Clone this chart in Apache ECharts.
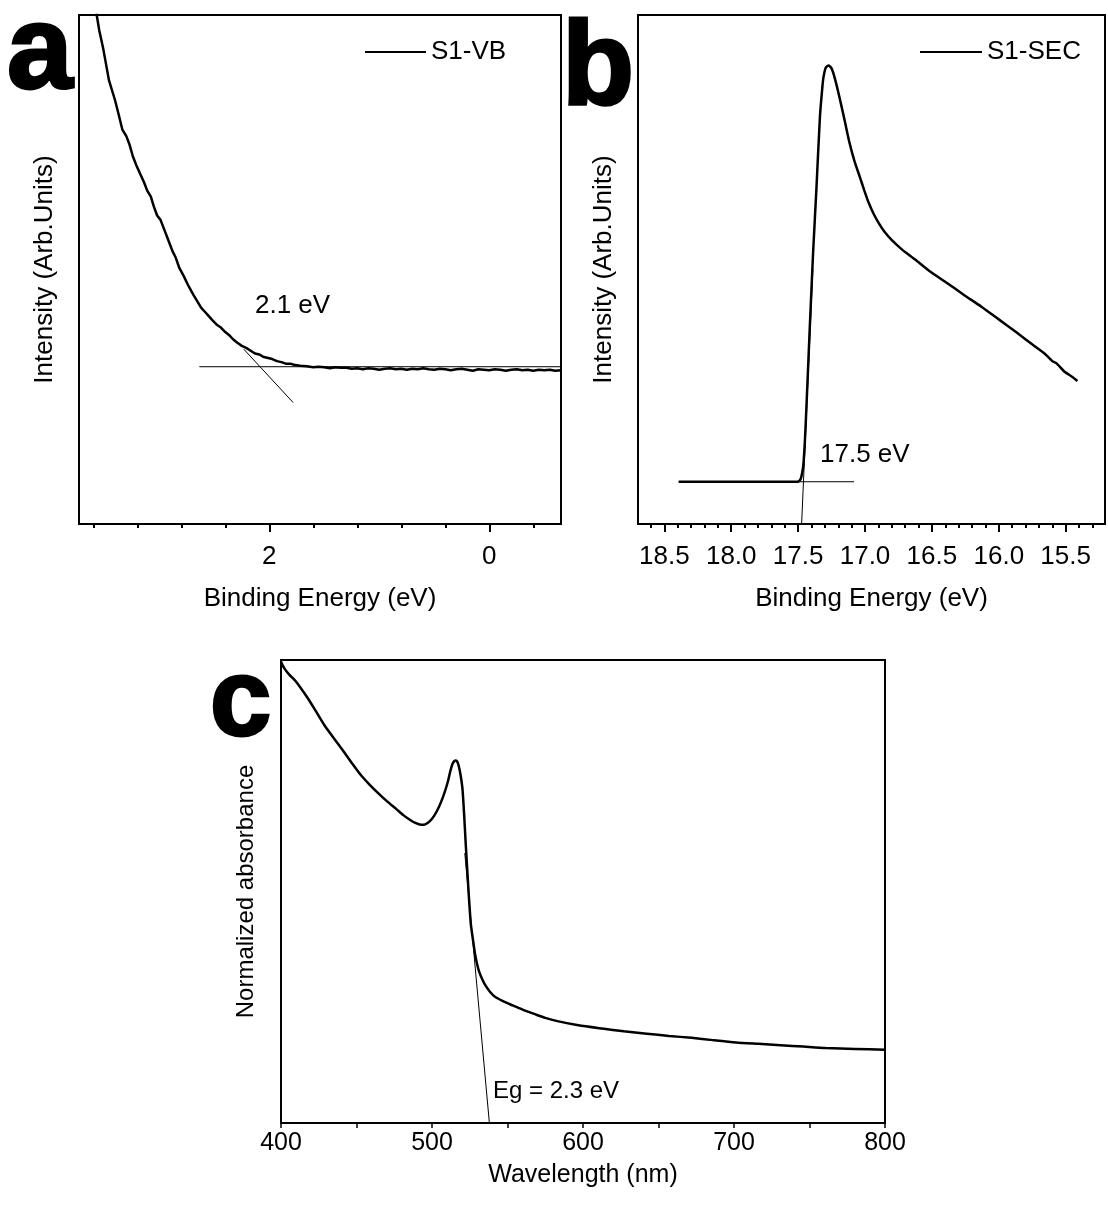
<!DOCTYPE html>
<html>
<head>
<meta charset="utf-8">
<script src="https://cdn.jsdelivr.net/npm/echarts@6/dist/echarts.min.js"></script>
<style>
  html, body { margin: 0; padding: 0; background: #fff; }
  #chart { width: 1108px; height: 1222px; }
</style>
</head>
<body>
<div id="chart"></div>
<script>
// panel a - valence band (S1-VB)
const vbEnergy = [3.575, 3.569, 3.546, 3.509, 3.458, 3.403, 3.37, 3.336, 3.30, 3.27, 3.24, 3.209, 3.17, 3.14, 3.11, 3.077, 3.05, 3.02, 2.99, 2.945, 2.91, 2.88, 2.85, 2.818, 2.78, 2.74, 2.71, 2.687, 2.65, 2.62, 2.59, 2.556, 2.52, 2.48, 2.44, 2.40, 2.364, 2.33, 2.29, 2.25, 2.21, 2.166, 2.13, 2.09, 2.05, 2.01, 1.973, 1.93, 1.89, 1.85, 1.81, 1.776, 1.72, 1.66, 1.60, 1.55, 1.50, 1.45, 1.40, 1.35, 1.30, 1.25, 1.20, 1.15, 1.10, 1.05, 1.00, 0.95, 0.90, 0.85, 0.80, 0.75, 0.70, 0.65, 0.60, 0.55, 0.50, 0.45, 0.40, 0.35, 0.30, 0.25, 0.20, 0.15, 0.10, 0.05, 0.00, -0.05, -0.10, -0.15, -0.20, -0.25, -0.30, -0.35, -0.40, -0.45, -0.50, -0.55, -0.60, -0.652];
const vbIntensity = [101.5, 100, 97.0, 93.3, 87.2, 83.3, 80.5, 77.5, 76.2, 74.5, 72.2, 70.5, 68.6, 67.2, 65.5, 64.3, 62.4, 60.6, 59.8, 57.3, 55.3, 53.6, 52.3, 50.3, 48.8, 47.0, 45.8, 44.9, 43.6, 42.5, 41.8, 41.0, 40.1, 39.2, 38.6, 37.7, 37.1, 36.3, 35.6, 35.0, 34.6, 34.0, 33.5, 33.3, 32.8, 32.6, 32.4, 32.0, 31.8, 31.5, 31.5, 31.3, 31.1, 31.0, 30.8, 30.9, 30.8, 30.6, 30.8, 30.7, 30.7, 30.5, 30.6, 30.4, 30.6, 30.5, 30.3, 30.5, 30.6, 30.4, 30.5, 30.3, 30.5, 30.4, 30.6, 30.4, 30.3, 30.5, 30.4, 30.2, 30.4, 30.5, 30.3, 30.1, 30.4, 30.3, 30.2, 30.4, 30.3, 30.1, 30.3, 30.4, 30.2, 30.3, 30.1, 30.3, 30.2, 30.3, 30.1, 30.2];
const vbBaseX = [2.636, -0.652];
const vbBaseY = [30.9, 30.9];
const vbEdgeX = [2.232, 1.783];
const vbEdgeY = [34.35, 23.86];
const vbMajorTicks = [0, 2];
const vbMinorTicks = [-0.4, 0.4, 0.8, 1.2, 1.6, 2.4, 2.8, 3.2, 3.6];

// panel b - secondary electron cutoff (S1-SEC)
const secEnergy = [18.393, 17.506, 17.49, 17.48, 17.47, 17.461, 17.45, 17.44, 17.415, 17.389, 17.363, 17.337, 17.32, 17.311, 17.293, 17.272, 17.258, 17.246, 17.226, 17.194, 17.155, 17.117, 17.08, 17.039, 17.005, 16.974, 16.935, 16.895, 16.857, 16.805, 16.727, 16.623, 16.519, 16.39, 16.26, 16.13, 16.0, 15.871, 15.741, 15.65, 15.6, 15.57, 15.508, 15.45, 15.412];
const secIntensity = [8.3, 8.3, 8.5, 8.9, 10.0, 11.6, 16.0, 21.7, 37.3, 52.8, 66.0, 80.0, 85.5, 87.7, 89.7, 90.1, 89.8, 89.3, 87.6, 84.2, 79.6, 75.0, 71.4, 68.2, 65.5, 63.2, 60.9, 59.0, 57.5, 55.9, 54.0, 51.9, 49.7, 47.4, 45.0, 42.7, 40.2, 37.7, 35.1, 33.3, 32.0, 31.6, 29.9, 28.9, 28.1];
const secBaseX = [18.393, 17.082];
const secBaseY = [8.3, 8.3];
const secEdgeX = [17.474, 17.39];
const secEdgeY = [0, 50];
const secMajorTicks = [15.5, 16.0, 16.5, 17.0, 17.5, 18.0, 18.5];
const secMinorTicks = [15.3, 15.4, 15.6, 15.7, 15.8, 15.9, 16.1, 16.2, 16.3, 16.4, 16.6, 16.7, 16.8, 16.9, 17.1, 17.2, 17.3, 17.4, 17.6, 17.7, 17.8, 17.9, 18.1, 18.2, 18.3, 18.4, 18.6];

// panel c - absorbance
const absWavelength = [400, 402, 405.3, 410, 417.2, 423, 429, 435, 440.9, 447, 452.7, 458.6, 464.5, 470.5, 476.4, 481, 485.3, 489, 492.7, 495.5, 498.6, 501.5, 504.5, 507.5, 510.4, 512, 513.4, 514.6, 515.8, 516.8, 517.8, 519, 520.2, 521.3, 522.3, 524.1, 525.7, 527.3, 528.5, 529.8, 531.2, 533.5, 535.6, 538.5, 541.5, 547, 553.4, 560, 568.2, 575, 583, 597, 612.6, 627, 642.2, 657, 671.8, 686, 701.4, 716, 731, 746, 760.7, 780, 800];
const absValue = [99.6, 98.3, 96.9, 95.3, 92.0, 89.0, 85.8, 83.1, 80.5, 77.7, 75.2, 73.1, 71.2, 69.4, 67.8, 66.5, 65.5, 64.8, 64.4, 64.5, 65.2, 66.4, 68.2, 70.6, 73.6, 75.8, 77.4, 78.1, 78.3, 78.0, 77.0, 75.0, 72.1, 66.5, 60.5, 50.6, 43.0, 39.2, 36.5, 34.4, 32.7, 30.9, 29.6, 28.3, 27.3, 26.3, 25.4, 24.5, 23.5, 22.7, 22.0, 21.1, 20.4, 19.8, 19.3, 18.8, 18.4, 17.9, 17.4, 17.1, 16.8, 16.5, 16.2, 16.0, 15.8];
const absEdgeX = [521.7, 538];
const absEdgeY = [58.3, 0];

const FONT = '"Liberation Sans", Arial, sans-serif';

function zip(xs, ys) {
  return xs.map((x, i) => [x, ys[i]]);
}

function txt(size) {
  return { color: '#000', fontSize: size, fontFamily: FONT };
}

function mainX(grid, min, max, major, fmt, name, gap) {
  return {
    type: 'value', gridIndex: grid, min: min, max: max, inverse: true, position: 'bottom',
    axisLine: { show: true, onZero: false, lineStyle: { color: '#000', width: 2 } },
    axisTick: { show: true, customValues: major, length: 8, lineStyle: { color: '#000', width: 2 } },
    axisLabel: Object.assign({ show: true, customValues: major, margin: 20, formatter: fmt }, txt(26)),
    splitLine: { show: false },
    name: name, nameLocation: 'middle', nameGap: gap, nameTextStyle: txt(26)
  };
}

function minorX(grid, min, max, minor) {
  return {
    type: 'value', gridIndex: grid, min: min, max: max, inverse: true, position: 'bottom',
    axisLine: { show: false },
    axisTick: { show: true, customValues: minor, length: 4, lineStyle: { color: '#000', width: 2 } },
    axisLabel: { show: false },
    splitLine: { show: false }
  };
}

function yAx(grid, name, gap, size) {
  return {
    type: 'value', gridIndex: grid, min: 0, max: 100,
    axisLine: { show: true, onZero: false, lineStyle: { color: '#000', width: 2 } },
    axisTick: { show: false },
    axisLabel: { show: false },
    splitLine: { show: false },
    name: name, nameLocation: 'middle', nameGap: gap, nameTextStyle: txt(size)
  };
}

function curve(name, xi, yi, data, w, smooth) {
  return {
    name: name, type: 'line', xAxisIndex: xi, yAxisIndex: yi, data: data,
    symbol: 'none', silent: true, clip: true,
    smooth: smooth || false,
    lineStyle: { color: '#000', width: w }, itemStyle: { color: '#000' }
  };
}

function label(text, x, y, size) {
  return {
    type: 'text', x: x, y: y,
    style: { text: text, fill: '#000', font: size + 'px ' + FONT, textAlign: 'left', textVerticalAlign: 'middle' }
  };
}

function bigLetter(text, x, y, size) {
  return {
    type: 'text', x: x, y: y,
    style: {
      text: text, fill: '#000', stroke: '#000', lineWidth: 3,
      font: 'bold ' + size + 'px ' + FONT, textAlign: 'left', textVerticalAlign: 'middle'
    }
  };
}

const chart = echarts.init(document.getElementById('chart'));

const option = {
  animation: false,
  backgroundColor: '#fff',
  grid: [
    { left: 79, top: 15, width: 482, height: 509, show: true, borderColor: '#000', borderWidth: 2 },
    { left: 638, top: 15, width: 467, height: 509, show: true, borderColor: '#000', borderWidth: 2 },
    { left: 281, top: 660, width: 604, height: 463, show: true, borderColor: '#000', borderWidth: 2 }
  ],
  legend: [
    {
      data: ['S1-VB'], left: 365, top: 39, padding: 0, icon: 'rect', itemWidth: 61, itemHeight: 2,
      selectedMode: false, textStyle: txt(26)
    },
    {
      data: ['S1-SEC'], left: 920, top: 39, padding: 0, icon: 'rect', itemWidth: 62, itemHeight: 2,
      selectedMode: false, textStyle: txt(26)
    }
  ],
  xAxis: [
    mainX(0, -0.652, 3.730, vbMajorTicks, null, 'Binding Energy (eV)', 62),
    minorX(0, -0.652, 3.730, vbMinorTicks),
    mainX(1, 15.206, 18.697, secMajorTicks, v => Number(v).toFixed(1), 'Binding Energy (eV)', 62),
    minorX(1, 15.206, 18.697, secMinorTicks),
    {
      type: 'value', gridIndex: 2, min: 400, max: 800, interval: 100, position: 'bottom',
      axisLine: { show: true, onZero: false, lineStyle: { color: '#000', width: 2 } },
      axisTick: { show: true, length: 5, lineStyle: { color: '#000', width: 1.5 } },
      minorTick: { show: true, splitNumber: 2, length: 5, lineStyle: { color: '#000', width: 1.5 } },
      axisLabel: Object.assign({ margin: 8 }, txt(25)),
      splitLine: { show: false },
      name: 'Wavelength (nm)', nameLocation: 'middle', nameGap: 40, nameTextStyle: txt(25)
    }
  ],
  yAxis: [
    yAx(0, 'Intensity (Arb.Units)', 21, 26),
    yAx(1, 'Intensity (Arb.Units)', 21, 26),
    yAx(2, 'Normalized absorbance', 23, 24)
  ],
  series: [
    curve('S1-VB', 0, 0, zip(vbEnergy, vbIntensity), 2.5),
    curve('', 0, 0, zip(vbBaseX, vbBaseY), 1),
    curve('', 0, 0, zip(vbEdgeX, vbEdgeY), 1),
    curve('S1-SEC', 2, 1, zip(secEnergy, secIntensity), 2.5, 0.2),
    curve('', 2, 1, zip(secBaseX, secBaseY), 1),
    curve('', 2, 1, zip(secEdgeX, secEdgeY), 1),
    curve('absorbance', 4, 2, zip(absWavelength, absValue), 2.5, 0.2),
    curve('', 4, 2, zip(absEdgeX, absEdgeY), 1)
  ],
  graphic: [
    bigLetter('a', 7, 55, 118),
    bigLetter('b', 562, 71, 118),
    bigLetter('c', 210, 705, 110),
    label('2.1 eV', 255, 306, 26),
    label('17.5 eV', 820, 455, 26),
    label('Eg = 2.3 eV', 493, 1091, 24)
  ]
};

chart.setOption(option);
</script>
</body>
</html>
